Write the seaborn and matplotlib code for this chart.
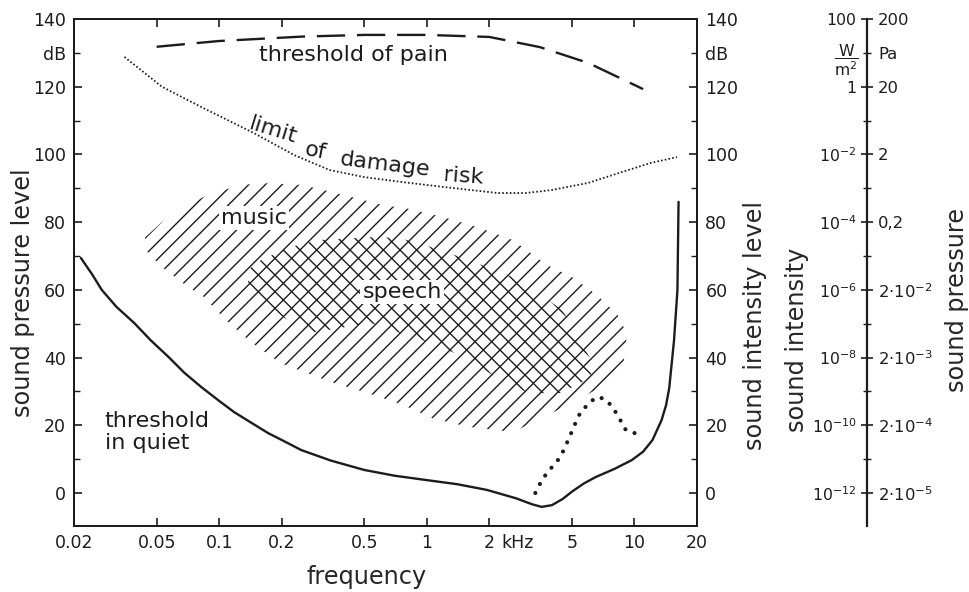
import matplotlib
matplotlib.use("Agg")
import matplotlib.pyplot as plt
import matplotlib.ticker as mticker
import pandas as pd
import seaborn as sns

# ---- frequency axis (kHz) ----
freq_ticks = [0.02, 0.05, 0.1, 0.2, 0.5, 1, 2, 5, 10, 20]
freq_labels = ["0.02", "0.05", "0.1", "0.2", "0.5", "1", "2", "5", "10", "20"]

# ---- level axis (dB) ----
level_ticks = [0, 20, 40, 60, 80, 100, 120, 140]
level_labels = ["0", "20", "40", "60", "80", "100", "120", "140"]
level_minor = [10, 30, 50, 70, 90, 110, 130]

# ---- equivalent physical scales ----
intensity_labels = [r"$\mathregular{10^{-12}}$", r"$\mathregular{10^{-10}}$",
                    r"$\mathregular{10^{-8}}$", r"$\mathregular{10^{-6}}$",
                    r"$\mathregular{10^{-4}}$", r"$\mathregular{10^{-2}}$", "1", "100"]
pressure_labels = [r"2·$\mathregular{10^{-5}}$", r"2·$\mathregular{10^{-4}}$",
                   r"2·$\mathregular{10^{-3}}$", r"2·$\mathregular{10^{-2}}$",
                   "0,2", "2", "20", "200"]

# ---- curves ----
pain_f = [0.05, 0.1, 0.25, 0.5, 1.0, 2.0, 3.5, 6.0, 11.0]
pain_db = [131.8, 133.5, 134.8, 135.3, 135.3, 134.7, 131.7, 127.0, 119.3]

damage_f = [0.035, 0.053, 0.082, 0.147, 0.23, 0.34, 0.5, 0.77, 1.2, 2.2, 3.0, 4.0,
            6.0, 8.4, 12.0, 16.0]
damage_db = [128.8, 120.0, 114.0, 106.3, 99.8, 95.4, 93.3, 91.8, 90.4, 88.6, 88.6,
             89.5, 91.6, 94.5, 97.5, 99.2]

quiet_f = [0.0216, 0.0245, 0.0272, 0.032, 0.039, 0.047, 0.057, 0.068, 0.082, 0.1,
           0.118, 0.145, 0.172, 0.21, 0.248, 0.344, 0.5, 0.7, 1.0, 1.4, 1.95, 2.7,
           3.2, 3.57, 4.0, 4.5, 5.0, 5.7, 6.5, 8.0, 9.7, 11.0, 12.2, 13.5, 14.2,
           14.7, 15.5, 16.1, 16.3]
quiet_db = [69.4, 64.5, 60.0, 55.0, 50.2, 45.0, 40.2, 35.5, 31.3, 27.2, 23.9, 20.5,
            17.7, 15.0, 12.7, 9.6, 6.8, 5.1, 3.8, 2.6, 0.9, -1.6, -3.3, -4.1, -3.6,
            -1.8, 0.4, 2.8, 4.7, 7.1, 9.7, 12.2, 15.6, 21.5, 26.0, 31.0, 45.0, 60.0,
            86.0]

loss_f = [3.33, 3.6, 3.9, 4.4, 4.8, 5.2, 5.5, 6.2, 6.7, 7.3, 7.9, 8.7, 9.0, 9.8, 11.1]
loss_db = [0.0, 4.1, 6.8, 10.6, 15.7, 20.7, 23.9, 27.2, 28.4, 27.5, 25.1, 20.7, 18.9,
           17.7, 17.7]

# ---- areas ----
music_f = [0.044, 0.053, 0.07, 0.088, 0.127, 0.172, 0.25, 0.345, 0.62, 0.81, 1.2, 1.8,
           2.6, 3.8, 5.0, 6.6, 8.3, 9.2, 8.8, 6.5, 4.0, 2.6, 1.6, 1.07, 0.77, 0.52,
           0.344, 0.197, 0.142, 0.108, 0.084, 0.071, 0.053, 0.044]
music_db = [75.5, 80.0, 85.0, 88.0, 91.0, 91.5, 91.0, 89.0, 85.0, 84.0, 81.5, 78.3,
            74.7, 67.3, 63.8, 58.5, 52.6, 47.0, 37.0, 30.4, 23.6, 18.0, 19.5, 22.0,
            26.0, 29.5, 32.8, 38.4, 44.6, 51.0, 58.0, 60.8, 66.7, 72.0]

speech_f = [0.138, 0.159, 0.222, 0.298, 0.554, 0.74, 1.04, 1.45, 1.96, 2.8, 4.5, 6.5,
            5.9, 4.4, 3.1, 2.25, 1.6, 1.12, 0.74, 0.536, 0.276, 0.178, 0.138]
speech_db = [66.0, 68.8, 72.7, 74.7, 75.6, 75.3, 72.7, 69.7, 66.7, 63.0, 54.0, 37.0,
             33.4, 29.5, 29.5, 33.4, 39.3, 43.7, 47.3, 50.2, 47.3, 54.0, 60.5]

INK = "#1c1c1c"

sns.set_style("ticks")
plt.rcParams.update({
    "font.family": ["DejaVu Sans"],
    "mathtext.fontset": "dejavusans",
    "hatch.linewidth": 1.0,
    "hatch.color": INK,
    "axes.linewidth": 1.4,
    "axes.edgecolor": INK,
    "text.color": INK,
    "xtick.color": INK,
    "ytick.color": INK,
})

TICK_FS = 12.5
SCALE_FS = 11.3
TEXT_FS = 16
LABEL_FS = 17.3

fig = plt.figure(figsize=(9.69, 5.92), dpi=100)
ax = fig.add_axes([74 / 969, 66 / 592, 623 / 969, 507 / 592])
ax.set_xscale("log")
ax.set_xlim(0.02, 20)
ax.set_ylim(-9.75, 140)

# hatched regions: music single-hatched, speech cross-hatched on top of it
ax.fill(music_f, music_db, facecolor="none", edgecolor=INK, hatch="//", linewidth=0)
ax.fill(speech_f, speech_db, facecolor="none", edgecolor=INK, hatch="\\\\", linewidth=0)

df_pain = pd.DataFrame({"f": pain_f, "L": pain_db})
df_damage = pd.DataFrame({"f": damage_f, "L": damage_db})
df_quiet = pd.DataFrame({"f": quiet_f, "L": quiet_db})
df_loss = pd.DataFrame({"f": loss_f, "L": loss_db})

sns.lineplot(data=df_pain, x="f", y="L", ax=ax, sort=False, estimator=None,
             color=INK, lw=1.7, linestyle=(0, (12, 5)))
sns.lineplot(data=df_damage, x="f", y="L", ax=ax, sort=False, estimator=None,
             color=INK, lw=1.3, linestyle=(0, (0.9, 1.2)))
sns.lineplot(data=df_quiet, x="f", y="L", ax=ax, sort=False, estimator=None,
             color=INK, lw=1.7)
sns.lineplot(data=df_loss, x="f", y="L", ax=ax, sort=False, estimator=None,
             color=INK, lw=3.0, linestyle=(0, (0.01, 2.4)), dash_capstyle="round")

# ticks and labels of the main frame
ax.set_xticks(freq_ticks, labels=freq_labels)
ax.xaxis.set_minor_locator(mticker.NullLocator())
ax.tick_params(axis="x", which="major", direction="in", length=6, width=1.2,
               top=True, labelsize=TICK_FS, pad=6)
ax.annotate("kHz", xy=(2, 0), xycoords=("data", "axes fraction"),
            xytext=(8.5, -6), textcoords="offset points", ha="left", va="top",
            fontsize=TICK_FS)

ax.set_yticks(level_ticks, labels=level_labels)
ax.set_yticks(level_minor, labels=["", "", "", "", "", "", "dB"], minor=True)
ax.tick_params(axis="y", which="major", direction="in", length=6, width=1.2,
               labelsize=TICK_FS, pad=6)
ax.tick_params(axis="y", which="minor", direction="in", length=4, width=1.0,
               labelsize=TICK_FS, pad=6)
ax.set_ylabel("sound pressure level", fontsize=LABEL_FS)
ax.yaxis.set_label_coords(-0.082, 0.46)
ax.yaxis.label.set_va("center")
ax.set_xlabel("frequency", fontsize=LABEL_FS)
ax.xaxis.set_label_coords(0.47, -0.10)
ax.xaxis.label.set_va("center")

# right side: sound intensity level
ax2 = ax.twinx()
ax2.set_ylim(ax.get_ylim())
ax2.set_yticks(level_ticks, labels=level_labels)
ax2.set_yticks(level_minor, labels=["", "", "", "", "", "", "dB"], minor=True)
ax2.tick_params(axis="y", which="major", direction="in", length=6, width=1.2,
                labelsize=TICK_FS, pad=6)
ax2.tick_params(axis="y", which="minor", direction="in", length=4, width=1.0,
                labelsize=TICK_FS, pad=6)
ax2.set_ylabel("sound intensity level", fontsize=LABEL_FS, rotation=90)
ax2.yaxis.set_label_coords(1.093, 0.396)
ax2.yaxis.label.set_va("center")

# annotations
ax.text(0.156, 129.4, "threshold of pain", ha="left", va="center", fontsize=TEXT_FS)
for word, f, L, rot in [("limit", 0.182, 107.2, -17), ("of", 0.29, 100.9, -11),
                        ("damage", 0.63, 96.9, -7), ("risk", 1.5, 93.6, -4)]:
    ax.text(f, L, word, ha="center", va="center", fontsize=TEXT_FS, rotation=rot,
            rotation_mode="anchor")
ax.text(0.147, 81.2, "music", ha="center", va="center", fontsize=TEXT_FS,
        bbox=dict(facecolor="white", edgecolor="none", pad=1.5))
ax.text(0.76, 59.4, "speech", ha="center", va="center", fontsize=TEXT_FS,
        bbox=dict(facecolor="white", edgecolor="none", pad=1.5))
ax.text(0.0281, 18.0, "threshold\nin quiet", ha="left", va="center",
        fontsize=TEXT_FS, linespacing=1.15)

# separate scale: sound intensity (left) and sound pressure (right)
ax3 = fig.add_axes([867 / 969, 66 / 592, 0.0001, 507 / 592])
ax3.set_ylim(ax.get_ylim())
ax3.patch.set_visible(False)
for side in ["top", "right", "bottom"]:
    ax3.spines[side].set_visible(False)
ax3.spines["left"].set_linewidth(1.6)
ax3.set_xticks([])
ax3.set_yticks(level_ticks, labels=intensity_labels)
ax3.set_yticks(level_minor,
               labels=["", "", "", "", "", "", r"$\dfrac{\mathrm{W}}{\mathrm{m}^2}$"],
               minor=True)
ax3.tick_params(axis="y", which="major", direction="inout", length=9, width=1.2,
                labelsize=SCALE_FS, pad=3)
ax3.tick_params(axis="y", which="minor", direction="inout", length=6, width=1.0,
                labelsize=SCALE_FS, pad=3)
ax3.set_ylabel("sound intensity", fontsize=LABEL_FS)
ax3.yaxis.set_label_coords(797 / 969, (592 - 340) / 592, transform=fig.transFigure)
ax3.yaxis.label.set_va("center")

ax4 = ax3.twinx()
ax4.set_ylim(ax.get_ylim())
for side in ["top", "right", "bottom", "left"]:
    ax4.spines[side].set_visible(False)
ax4.set_yticks(level_ticks, labels=pressure_labels)
ax4.set_yticks(level_minor, labels=["", "", "", "", "", "", "Pa"], minor=True)
ax4.tick_params(axis="y", which="both", length=0, labelsize=SCALE_FS + 0.5, pad=8)
ax4.set_ylabel("sound pressure", fontsize=LABEL_FS, rotation=90)
ax4.yaxis.set_label_coords(957 / 969, (592 - 300) / 592, transform=fig.transFigure)
ax4.yaxis.label.set_va("center")

fig.savefig("out.png", dpi=100, facecolor="white")
